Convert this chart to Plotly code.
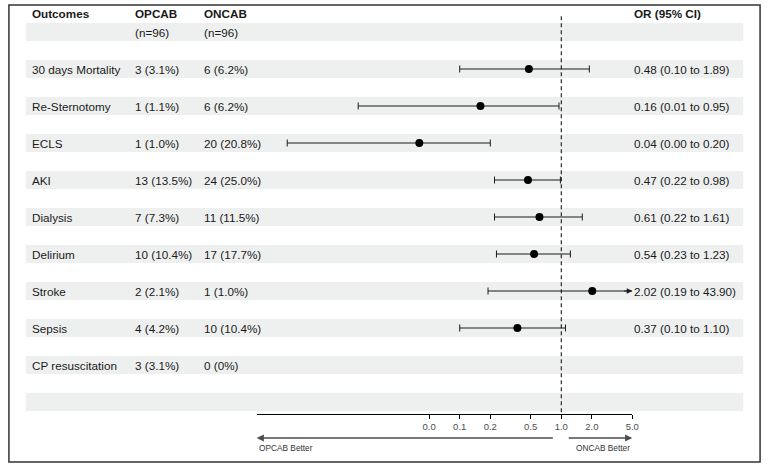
import math
import plotly.graph_objects as go

# table columns
outcomes = ["30 days Mortality", "Re-Sternotomy", "ECLS", "AKI", "Dialysis",
            "Delirium", "Stroke", "Sepsis", "CP resuscitation"]
opcab = ["3 (3.1%)", "1 (1.1%)", "1 (1.0%)", "13 (13.5%)", "7 (7.3%)",
         "10 (10.4%)", "2 (2.1%)", "4 (4.2%)", "3 (3.1%)"]
oncab = ["6 (6.2%)", "6 (6.2%)", "20 (20.8%)", "24 (25.0%)", "11 (11.5%)",
         "17 (17.7%)", "1 (1.0%)", "10 (10.4%)", "0 (0%)"]

# odds ratios + 95% CI
or_est = [0.48, 0.16, 0.04, 0.47, 0.61, 0.54, 2.02, 0.37, None]
ci_lo = [0.10, 0.01, 0.002, 0.22, 0.22, 0.23, 0.19, 0.10, None]
ci_hi = [1.89, 0.95, 0.20, 0.98, 1.61, 1.23, 43.90, 1.10, None]

tick_vals = [0.05, 0.1, 0.2, 0.5, 1, 2, 5]
tick_text = ["0.0", "0.1", "0.2", "0.5", "1.0", "2.0", "5.0"]
x_min, x_max = 0.001, 5

W, H = 775, 470
FONT = "Liberation Sans, Arial, sans-serif"
TXT = "#1a1a1a"
BAND = "#eef0ef"


def px_x(p):
    return p / W


def px_y(p):
    return 1 - p / H


# row r sits at pixel 13.5 + 18.5*r
r_top = (0 - 13.5) / 18.5
r_bot = (414 - 13.5) / 18.5
rows = [3 + 2 * i for i in range(len(outcomes))]

fig = go.Figure()

# reference line at OR = 1
fig.add_trace(go.Scatter(x=[1, 1], y=[0.15, r_bot], mode="lines",
                         line=dict(color="black", width=1, dash="4px,3px"),
                         hoverinfo="skip", showlegend=False))

for i, r in enumerate(rows):
    if or_est[i] is None:
        continue
    lo, hi = ci_lo[i], ci_hi[i]
    hi_draw = min(hi, x_max)
    fig.add_trace(go.Scatter(x=[lo, hi_draw], y=[r, r], mode="lines",
                             line=dict(color="#1a1a1a", width=1.1),
                             hoverinfo="skip", showlegend=False))
    caps = [lo] + ([hi] if hi <= x_max else [])
    fig.add_trace(go.Scatter(x=caps, y=[r] * len(caps), mode="markers",
                             marker=dict(symbol="line-ns", size=5,
                                         line=dict(color="#1a1a1a", width=1)),
                             hoverinfo="skip", showlegend=False))
    if hi > x_max:
        fig.add_annotation(x=math.log10(x_max), y=r, xref="x", yref="y",
                           ax=math.log10(x_max * 0.8), ay=r, axref="x", ayref="y",
                           text="", showarrow=True, arrowhead=2, arrowsize=1,
                           arrowwidth=1.1, arrowcolor="#1a1a1a")

fig.add_trace(go.Scatter(x=[v for v in or_est if v is not None],
                         y=[r for r, v in zip(rows, or_est) if v is not None],
                         mode="markers", marker=dict(color="black", size=8),
                         showlegend=False))

shapes = []
# shaded bands
for r in [1] + rows + [rows[-1] + 2]:
    shapes.append(dict(type="rect", xref="paper", yref="y",
                       x0=px_x(26), x1=px_x(750), y0=r - 0.49, y1=r + 0.49,
                       fillcolor=BAND, line=dict(width=0), layer="below"))
# outer frame
shapes.append(dict(type="rect", xref="paper", yref="paper",
                   x0=px_x(9), x1=px_x(767), y0=px_y(462), y1=px_y(5),
                   line=dict(color="#333333", width=1.5)))

col_x = [30, 134, 204, 638]


def cell(txt, col, r, bold=False):
    fig.add_annotation(x=px_x(col), y=r, xref="paper", yref="y",
                       text=f"<b>{txt}</b>" if bold else txt,
                       showarrow=False, xanchor="left", yanchor="middle",
                       font=dict(family=FONT, size=11.7, color=TXT))


cell("Outcomes", col_x[0], 0, True)
cell("OPCAB", col_x[1], 0, True)
cell("ONCAB", col_x[2], 0, True)
cell("OR (95% CI)", col_x[3], 0, True)
cell("(n=96)", col_x[1], 1)
cell("(n=96)", col_x[2], 1)

for i, r in enumerate(rows):
    cell(outcomes[i], col_x[0], r)
    cell(opcab[i], col_x[1], r)
    cell(oncab[i], col_x[2], r)
    if or_est[i] is not None:
        cell(f"{or_est[i]:.2f} ({ci_lo[i]:.2f} to {ci_hi[i]:.2f})", col_x[3], r)

# direction arrows under axis
arrow_y = px_y(438)
fig.add_annotation(x=math.log10(x_min), y=arrow_y, xref="x", yref="paper",
                   ax=math.log10(0.855), ay=0, axref="x", ayref="pixel",
                   text="", showarrow=True, arrowhead=2, arrowsize=0.9,
                   arrowwidth=1.6, arrowcolor="#4d4d4d")
fig.add_annotation(x=math.log10(x_max), y=arrow_y, xref="x", yref="paper",
                   ax=math.log10(1.145), ay=0, axref="x", ayref="pixel",
                   text="", showarrow=True, arrowhead=2, arrowsize=0.9,
                   arrowwidth=1.6, arrowcolor="#4d4d4d")
fig.add_annotation(x=math.log10(x_min), y=px_y(448), xref="x", yref="paper",
                   text="OPCAB Better", showarrow=False, xanchor="left",
                   yanchor="middle", font=dict(family=FONT, size=8.3, color="#333333"))
fig.add_annotation(x=math.log10(x_max), y=px_y(448), xref="x", yref="paper",
                   text="ONCAB Better", showarrow=False, xanchor="right",
                   yanchor="middle", font=dict(family=FONT, size=8.3, color="#333333"))

fig.update_layout(
    width=W, height=H, autosize=False,
    margin=dict(l=0, r=0, t=0, b=0),
    plot_bgcolor="white", paper_bgcolor="white",
    shapes=shapes,
    showlegend=False,
    xaxis=dict(type="log", range=[math.log10(x_min), math.log10(x_max)],
               domain=[px_x(259), px_x(638)],
               tickvals=tick_vals, ticktext=tick_text,
               ticks="outside", ticklen=4, tickcolor="black",
               showline=True, linecolor="black", linewidth=1,
               showgrid=False, zeroline=False,
               tickfont=dict(family=FONT, size=9.5, color="#4d4d4d")),
    yaxis=dict(range=[r_bot, r_top], domain=[px_y(414), 1], visible=False,
               showgrid=False, zeroline=False),
)

# drop the browser's default body margin so the figure fills the window
fig.write_html("out.html", config={"displayModeBar": False},
               post_script="document.body.style.margin='0';")
